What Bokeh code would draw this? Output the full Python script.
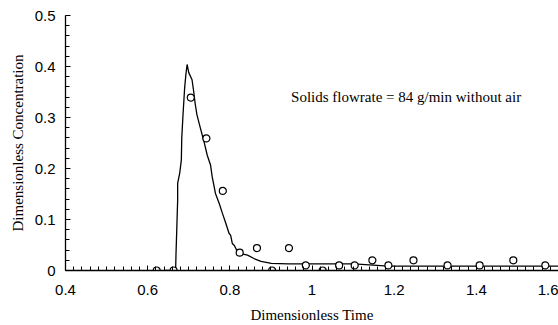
from bokeh.plotting import figure
from bokeh.models import Range1d, FixedTicker, Label, CustomJSTickFormatter
from bokeh.embed import file_html
from bokeh.resources import INLINE
import numpy as np

# Simulated curve (dimensionless time, dimensionless concentration)
curve_t = [0.64, 0.668, 0.669, 0.671, 0.673, 0.673, 0.678, 0.682, 0.683, 0.686, 0.690,
           0.693, 0.696, 0.700, 0.708, 0.712, 0.716, 0.720, 0.728, 0.737, 0.745,
           0.753, 0.757, 0.765, 0.774, 0.782, 0.790, 0.798, 0.802, 0.806, 0.811,
           0.819, 0.827, 0.843, 0.860, 0.876, 0.901, 0.942, 0.983, 1.065, 1.102,
           1.186, 1.607]
curve_c = [0.0, 0.0, 0.033, 0.085, 0.138, 0.171, 0.191, 0.217, 0.260, 0.305, 0.358,
           0.384, 0.404, 0.388, 0.374, 0.351, 0.325, 0.305, 0.280, 0.253, 0.226,
           0.207, 0.184, 0.151, 0.132, 0.112, 0.093, 0.073, 0.069, 0.053, 0.049,
           0.036, 0.033, 0.030, 0.023, 0.018, 0.014, 0.013, 0.013, 0.013, 0.013,
           0.0085, 0.0085]

# Measured points
meas_t = [0.622, 0.663, 0.705, 0.743, 0.783, 0.824, 0.866, 0.903, 0.944, 0.985,
          1.026, 1.066, 1.104, 1.147, 1.186, 1.247, 1.330, 1.408, 1.490, 1.568]
meas_c = [0.0, 0.0, 0.339, 0.259, 0.156, 0.035, 0.044, 0.0, 0.044, 0.010,
          0.0, 0.010, 0.010, 0.020, 0.010, 0.020, 0.010, 0.010, 0.020, 0.010]

x_ticks = [0.4, 0.6, 0.8, 1.0, 1.2, 1.4, 1.6]
y_ticks = [0.0, 0.1, 0.2, 0.3, 0.4, 0.5]
x_minor = [round(v, 2) for v in np.arange(0.4, 1.6001, 0.02)]
y_minor = [round(v, 2) for v in np.arange(0.0, 0.5001, 0.02)]

annotation = "Solids flowrate = 84 g/min without air"
x_title = "Dimensionless Time"
y_title = "Dimensionless Concentration"

p = figure(width=558, height=325, x_range=Range1d(0.4, 1.6), y_range=Range1d(0, 0.5),
           output_backend="svg", toolbar_location=None,
           min_border_left=65, min_border_top=15, min_border_right=0, min_border_bottom=55)
p.grid.visible = False
p.outline_line_color = None
p.background_fill_color = "white"
p.border_fill_color = "white"

p.line(curve_t, curve_c, line_color="black", line_width=1.3)
p.scatter(meas_t, meas_c, size=7, marker="circle", fill_color="white",
          line_color="black", line_width=1.2)

fmt = CustomJSTickFormatter(code="return tick.toFixed(2).replace(/\\.?0+$/, '') || '0';")

xa = p.xaxis[0]
xa.ticker = FixedTicker(ticks=x_ticks, minor_ticks=x_minor)
xa.formatter = fmt
ya = p.yaxis[0]
ya.ticker = FixedTicker(ticks=y_ticks, minor_ticks=y_minor)
ya.formatter = fmt

for ax in (xa, ya):
    ax.axis_line_color = "black"
    ax.axis_line_width = 1.3
    ax.major_tick_in = 5
    ax.major_tick_out = 0
    ax.minor_tick_in = 4
    ax.minor_tick_out = 0
    ax.major_tick_line_color = "black"
    ax.minor_tick_line_color = "black"
    ax.major_label_text_font = "Liberation Sans"
    ax.major_label_text_font_size = "15px"
    ax.major_label_text_color = "black"
    ax.axis_label_text_font = "Liberation Serif"
    ax.axis_label_text_font_size = "15px"
    ax.axis_label_text_font_style = "normal"
    ax.axis_label_text_color = "black"

xa.axis_label = x_title
xa.major_label_standoff = 14
xa.axis_label_standoff = 9
ya.axis_label = y_title
ya.major_label_standoff = 10
ya.axis_label_standoff = 6

p.add_layout(Label(x=0.949, y=0.341, text=annotation, text_font="Liberation Serif",
                   text_font_size="15px", text_baseline="middle", text_align="left",
                   text_color="black"))

open("out.html", "w").write(file_html(p, INLINE))
